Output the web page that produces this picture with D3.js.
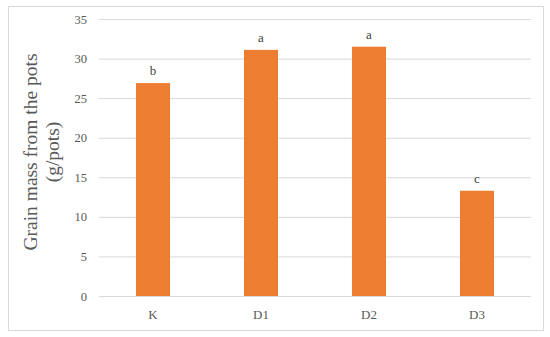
<!DOCTYPE html>
<html><head><meta charset="utf-8">
<script src="https://cdn.jsdelivr.net/npm/d3@7"></script>
<style>html,body{margin:0;padding:0;background:#fff}svg{display:block}</style>
</head><body>
<svg id="c" width="550" height="337"></svg>
<script>
const categories = ["K", "D1", "D2", "D3"];
const values = [26.9, 31.1, 31.5, 13.3];
const letters = ["b", "a", "a", "c"];
const yTicks = [0, 5, 10, 15, 20, 25, 30, 35];
const titleLines = ["Grain mass from the pots", "(g/pots)"];

const svg = d3.select("#c");
const font = "'Liberation Serif','Times New Roman',serif";
const txt = "#595959";

svg.append("rect").attr("x", 8.5).attr("y", 6.5).attr("width", 535).attr("height", 324)
  .attr("fill", "#fff").attr("stroke", "#D9D9D9").attr("stroke-width", 1);

const L = 99, R = 531, T = 19, B = 296;
const x = d3.scaleBand().domain(categories).range([L, R]).paddingInner(0.685).paddingOuter(0.3425);
const y = d3.scaleLinear().domain([0, 35]).range([B, T]);

const gy = svg.append("g").attr("transform", `translate(${L},0)`)
  .call(d3.axisLeft(y).tickValues(yTicks).tickSize(-(R - L)).tickPadding(12));
gy.select(".domain").remove();
gy.attr("font-family", font);
gy.selectAll(".tick line").attr("stroke", "#D9D9D9").attr("stroke-width", 1);
gy.selectAll(".tick text").attr("fill", txt).style("font-family", font).style("font-size", "12.5px");

const gx = svg.append("g").attr("transform", `translate(0,${B})`)
  .call(d3.axisBottom(x).tickSize(0).tickPadding(14));
gx.select(".domain").remove();
gx.attr("font-family", font);
gx.selectAll(".tick text").attr("fill", txt).style("font-family", font).style("font-size", "13px");

svg.append("g").selectAll("rect").data(values).join("rect")
  .attr("x", (d, i) => x(categories[i]))
  .attr("width", x.bandwidth())
  .attr("y", d => y(d))
  .attr("height", d => B - y(d))
  .attr("fill", "#ED7D31");

svg.append("g").selectAll("text").data(values).join("text")
  .attr("x", (d, i) => x(categories[i]) + x.bandwidth() / 2)
  .attr("y", d => y(d) - 8)
  .attr("text-anchor", "middle")
  .attr("fill", "#404040")
  .style("font-family", font).style("font-size", "13px")
  .text((d, i) => letters[i]);

const tg = svg.append("g").attr("transform", "translate(0,152) rotate(-90)");
tg.selectAll("text").data(titleLines).join("text")
  .attr("x", 0).attr("y", (d, i) => 37 + i * 22)
  .attr("text-anchor", "middle")
  .attr("fill", txt)
  .style("font-family", font).style("font-size", "19.5px")
  .text(d => d);
</script>
</body></html>
